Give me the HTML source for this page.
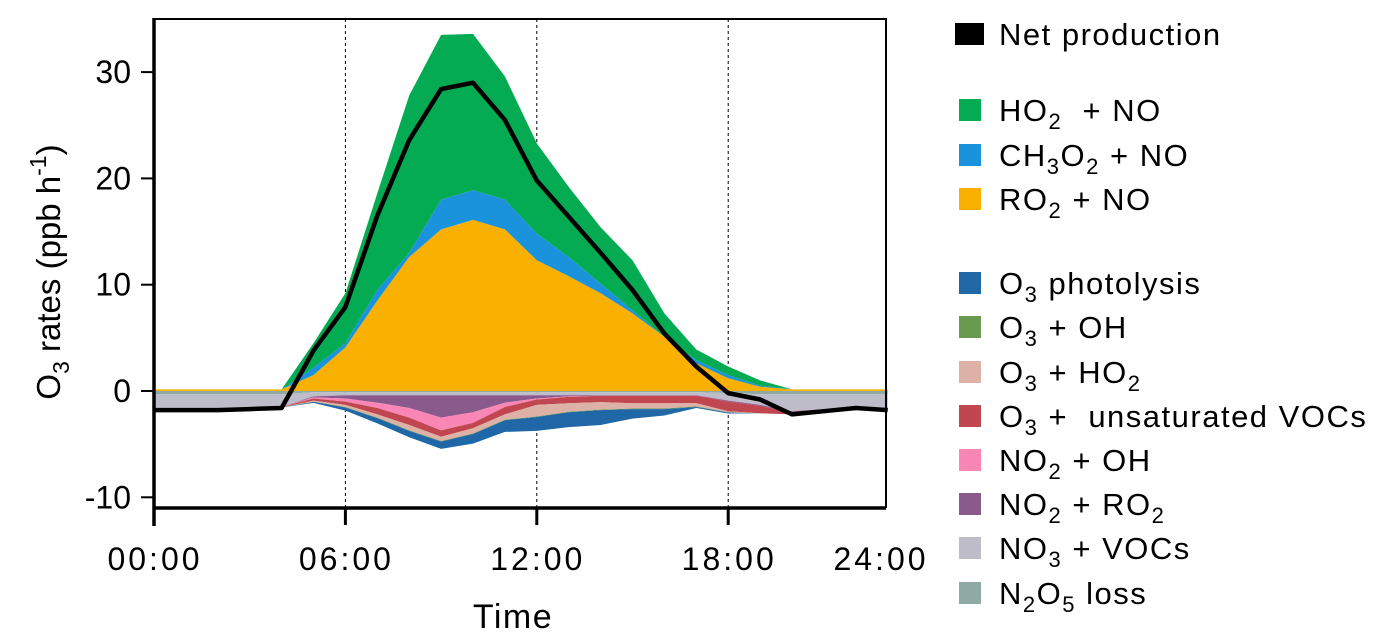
<!DOCTYPE html>
<html><head><meta charset="utf-8"><style>
body{margin:0;background:#fff;}
svg{display:block;font-family:"Liberation Sans",Arial,sans-serif;}
</style></head><body>
<svg id="chart" width="1378" height="643" viewBox="0 0 1378 643" xmlns="http://www.w3.org/2000/svg">
<g id="plot"></g>
<g id="axes"></g>
<g id="legend"></g>
</svg>
<script>
const hours = [0,1,2,3,4,5,6,7,8,9,10,11,12,13,14,15,16,17,18,19,20,21,22,23];
const ro2No   = [0.15,0.15,0.15,0.15,0.15,1.5,4.1,8.5,12.6,15.2,16.1,15.2,12.3,10.8,9.2,7.3,5.1,2.6,1.2,0.4,0.15,0.15,0.15,0.15];
const ch3o2No = [0,0,0,0,0,0.7,0.4,1.0,0.4,2.8,2.8,2.8,2.5,1.8,0.9,0.3,0,0.3,0.3,0.1,0,0,0,0];
const ho2No   = [0,0,0,0,0,2.3,4.7,9.1,14.8,15.5,14.7,11.6,8.5,6.6,5.3,4.7,2.2,1.0,0.8,0.5,0,0,0,0];
const o3Phot  = [0,0,0,0,0,0.1,0.3,0.5,0.6,0.7,0.9,1.1,1.3,1.4,1.4,0.9,0.6,0.1,0.1,0,0,0,0,0];
const o3Oh    = [0,0,0,0,0,0.02,0.05,0.05,0.05,0.05,0.05,0.05,0.05,0.05,0.05,0.05,0.05,0.05,0.02,0,0,0,0,0];
const o3Ho2   = [0,0,0,0,0,0.1,0.2,0.3,0.5,0.4,0.5,0.5,1.1,0.8,0.7,0.5,0.5,0.3,0.1,0,0,0,0,0];
const o3Voc   = [0.05,0.05,0.05,0.05,0.05,0.2,0.3,0.6,0.7,0.6,0.5,0.7,0.5,0.6,0.6,0.7,0.7,0.7,0.9,0.7,0.2,0.1,0.1,0.1];
const no2Oh   = [0,0,0,0,0,0.1,0.3,0.5,0.9,1.2,1.0,0.4,0.1,0.05,0,0,0,0,0,0,0,0,0,0];
const no2Ro2  = [0,0,0,0,0,0.1,0.3,0.7,1.2,2.1,1.6,0.7,0.3,0.1,0.05,0.05,0.05,0.05,0.1,0.1,0.1,0.1,0.1,0.1];
const no3Voc  = [1.3,1.3,1.3,1.3,1.2,0.4,0.3,0.3,0.3,0.3,0.3,0.3,0.3,0.3,0.3,0.3,0.3,0.3,0.7,1.0,1.6,1.4,1.2,1.3];
const n2o5    = [0.3,0.3,0.3,0.3,0.3,0.1,0.1,0.1,0.1,0.1,0.1,0.1,0.1,0.1,0.1,0.1,0.1,0.1,0.2,0.3,0.3,0.3,0.3,0.3];
const netProd = [-1.8,-1.8,-1.8,-1.7,-1.6,3.8,7.9,16.5,23.6,28.4,29.0,25.5,19.8,16.4,13.0,9.5,5.4,2.3,-0.2,-0.8,-2.2,-1.9,-1.6,-1.8];
const yTicks = [-10,0,10,20,30];
const xTickHours = [0,6,12,18];
const xTickLabels = ["00:00","06:00","12:00","18:00","24:00"];

const NS="http://www.w3.org/2000/svg";
const X0=154, PXH=31.9, Y0=391, PXV=10.63;
function sx(h){return X0+h*PXH;}
function sy(v){return Y0-v*PXV;}
function mk(tag,attrs,parent){const e=document.createElementNS(NS,tag);for(const k in attrs)e.setAttribute(k,attrs[k]);parent.appendChild(e);return e;}
const plot=document.getElementById('plot'), axes=document.getElementById('axes'), legend=document.getElementById('legend');

xTickHours.slice(1).forEach(h=>{
  const l=mk('line',{x1:sx(h),x2:sx(h),y1:19,y2:508,stroke:'#000','stroke-width':1,'stroke-dasharray':'3,3'},plot);
  
  
});

function band(lower,upper,color,name){
  let d='M'+hours.map((h,i)=>sx(h)+','+sy(upper[i])).join(' L');
  for(let i=hours.length-1;i>=0;i--)d+=' L'+sx(hours[i])+','+sy(lower[i]);
  const p=mk('path',{d:d+'Z',fill:color},plot);
  
  
}
let base=hours.map(()=>0);
[[ro2No,'#f9b000','area-ro2-no'],[ch3o2No,'#1b93dc','area-ch3o2-no'],[ho2No,'#05ab53','area-ho2-no']].forEach(([arr,c,n])=>{
  const top=base.map((b,i)=>b+arr[i]);band(base,top,c,n);base=top;});
base=hours.map(()=>0);
[[n2o5,'#8faaa4','area-n2o5-loss'],[no3Voc,'#bdbcc8','area-no3-vocs'],[no2Ro2,'#8a5a8c','area-no2-ro2'],[no2Oh,'#f986b4','area-no2-oh'],[o3Voc,'#c0474f','area-o3-unsat-vocs'],[o3Ho2,'#ddb1a5','area-o3-ho2'],[o3Oh,'#6a9a50','area-o3-oh'],[o3Phot,'#1f67a6','area-o3-photolysis']].forEach(([arr,c,n])=>{
  const bot=base.map((b,i)=>b-arr[i]);band(bot,base,c,n);base=bot;});
const nl=mk('polyline',{points:hours.map((h,i)=>sx(h)+','+sy(netProd[i])).join(' '),fill:'none',stroke:'#000','stroke-width':4.5,'stroke-linejoin':'round'},plot);



const fr=mk('path',{d:'M154,19 H886 V508',fill:'none',stroke:'#000','stroke-width':2},axes);


const ya=mk('line',{x1:154,x2:154,y1:18,y2:526,stroke:'#000','stroke-width':3.5},axes);


const xa=mk('line',{x1:153,x2:886,y1:508,y2:508,stroke:'#000','stroke-width':3.5},axes);


yTicks.forEach(v=>{
  const t=mk('line',{x1:141,x2:154,y1:sy(v),y2:sy(v),stroke:'#000','stroke-width':2},axes);
  
  
  const tx=mk('text',{x:131,y:sy(v)+11,'text-anchor':'end','font-size':32},axes);
  tx.textContent=v;
  
  
});
xTickHours.forEach(h=>{
  const t=mk('line',{x1:sx(h),x2:sx(h),y1:508,y2:525,stroke:'#000','stroke-width':3},axes);
  
  
});
xTickLabels.forEach((s,i)=>{
  const x=i<4?sx(xTickHours[i]):880;
  const tx=mk('text',{x:x+1,y:570,'text-anchor':'middle','font-size':32,'letter-spacing':3},axes);
  tx.textContent=s;
  
  
});
const xt=mk('text',{x:513,y:628,'text-anchor':'middle','font-size':34,'letter-spacing':1.5},axes);
xt.textContent='Time';


const yt=mk('text',{x:0,y:0,'text-anchor':'middle','font-size':33,transform:'translate(60,272) rotate(-90)'},axes);
yt.innerHTML='O<tspan font-size="23" dy="9">3</tspan><tspan dy="-9"> rates (ppb h</tspan><tspan font-size="23" dy="-14">-1</tspan><tspan dy="14">)</tspan>';



const legItems=[
 ['#000','Net production',34,'legend-net-production'],
 ['#05ab53','HO<tspan font-size="22" dy="8">2</tspan><tspan dy="-8">&#160; + NO</tspan>',110,'legend-ho2-no'],
 ['#1b93dc','CH<tspan font-size="22" dy="8">3</tspan><tspan dy="-8">O</tspan><tspan font-size="22" dy="8">2</tspan><tspan dy="-8"> + NO</tspan>',155,'legend-ch3o2-no'],
 ['#f9b000','RO<tspan font-size="22" dy="8">2</tspan><tspan dy="-8"> + NO</tspan>',199,'legend-ro2-no'],
 ['#1f67a6','O<tspan font-size="22" dy="8">3</tspan><tspan dy="-8"> photolysis</tspan>',283,'legend-o3-photolysis'],
 ['#6a9a50','O<tspan font-size="22" dy="8">3</tspan><tspan dy="-8"> + OH</tspan>',327,'legend-o3-oh'],
 ['#ddb1a5','O<tspan font-size="22" dy="8">3</tspan><tspan dy="-8"> + HO</tspan><tspan font-size="22" dy="8">2</tspan>',372,'legend-o3-ho2'],
 ['#c0474f','O<tspan font-size="22" dy="8">3</tspan><tspan dy="-8"> +&#160; unsaturated VOCs</tspan>',416,'legend-o3-unsat-vocs'],
 ['#f986b4','NO<tspan font-size="22" dy="8">2</tspan><tspan dy="-8"> + OH</tspan>',460,'legend-no2-oh'],
 ['#8a5a8c','NO<tspan font-size="22" dy="8">2</tspan><tspan dy="-8"> + RO</tspan><tspan font-size="22" dy="8">2</tspan>',504,'legend-no2-ro2'],
 ['#bdbcc8','NO<tspan font-size="22" dy="8">3</tspan><tspan dy="-8"> + VOCs</tspan>',548,'legend-no3-vocs'],
 ['#8faaa4','N<tspan font-size="22" dy="8">2</tspan><tspan dy="-8">O</tspan><tspan font-size="22" dy="8">5</tspan><tspan dy="-8"> loss</tspan>',593,'legend-n2o5-loss']
];
legItems.forEach(([c,html,y,n],i)=>{
  const g=mk('g',{},legend);
  
  
  if(i===0) mk('rect',{x:955,y:y-11,width:29,height:22,fill:c},g);
  else mk('rect',{x:959,y:y-11,width:22,height:22,fill:c},g);
  const t=mk('text',{x:999,y:y+11,'font-size':31,'letter-spacing':1.5},g);
  t.innerHTML=html;
});
</script>
</body></html>
